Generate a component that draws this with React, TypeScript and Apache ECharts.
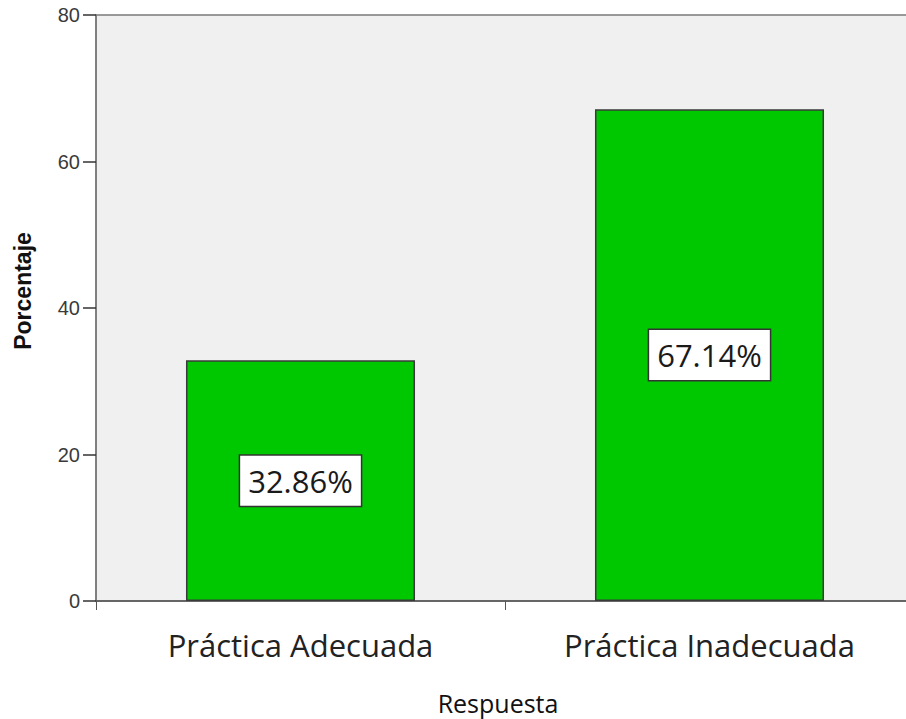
import React, { useEffect, useRef } from "react";
import * as echarts from "echarts";

const categories = ["Práctica Adecuada", "Práctica Inadecuada"];
const percentages = [32.86, 67.14];
const yTicks = [0, 20, 40, 60, 80];

export default function App() {
  const ref = useRef<HTMLDivElement>(null);

  useEffect(() => {
    document.body.style.margin = "0";
    if (!ref.current) return;
    const chart = echarts.init(ref.current, null, { renderer: "svg" });
    chart.setOption({
      animation: false,
      backgroundColor: "#ffffff",
      grid: {
        left: 96,
        top: 15,
        width: 818,
        height: 586,
        containLabel: false,
        outerBoundsMode: "none",
        show: true,
        backgroundColor: "#f0f0f0",
        borderColor: "#7a7a7a",
        borderWidth: 1.5,
      },
      xAxis: {
        type: "category",
        data: categories,
        boundaryGap: true,
        axisLine: { lineStyle: { color: "#555", width: 1.5 } },
        axisTick: { show: true, length: 9, lineStyle: { color: "#555", width: 1 } },
        axisLabel: {
          color: "#222",
          fontFamily: "Open Sans",
          fontSize: 31,
          margin: 28,
        },
        name: "Respuesta",
        nameLocation: "middle",
        nameGap: 89,
        nameTextStyle: {
          color: "#111",
          fontFamily: "Open Sans",
          fontSize: 25,
          padding: [0, 14, 0, 0],
        },
      },
      yAxis: {
        type: "value",
        min: yTicks[0],
        max: yTicks[yTicks.length - 1],
        interval: 20,
        splitLine: { show: false },
        axisLine: { show: true, lineStyle: { color: "#777", width: 1.5 } },
        axisTick: { show: true, length: 13, lineStyle: { color: "#333", width: 1.5 } },
        axisLabel: {
          color: "#3a3a3a",
          fontFamily: "Liberation Sans",
          fontSize: 20,
          margin: 16,
        },
        name: "Porcentaje",
        nameLocation: "middle",
        nameGap: 62,
        nameTextStyle: {
          color: "#111",
          fontFamily: "Liberation Sans Narrow, Liberation Sans",
          fontWeight: "bold",
          fontSize: 23,
          padding: [0, 0, 0, 34],
        },
      },
      series: [
        {
          type: "bar",
          data: percentages,
          barWidth: "56%",
          itemStyle: {
            color: "#00c800",
            borderColor: "#3a3a3a",
            borderWidth: 1.5,
          },
          label: {
            show: true,
            position: "inside",
            formatter: (p: any) => p.value.toFixed(2) + "%",
            color: "#1a1a1a",
            fontFamily: "Open Sans",
            fontSize: 31,
            lineHeight: 38,
            backgroundColor: "#ffffff",
            borderColor: "#333",
            borderWidth: 1.5,
            padding: [6, 8, 6, 8],
          },
        },
      ],
    });
    return () => chart.dispose();
  }, []);

  return <div ref={ref} style={{ width: 906, height: 719 }} />;
}
